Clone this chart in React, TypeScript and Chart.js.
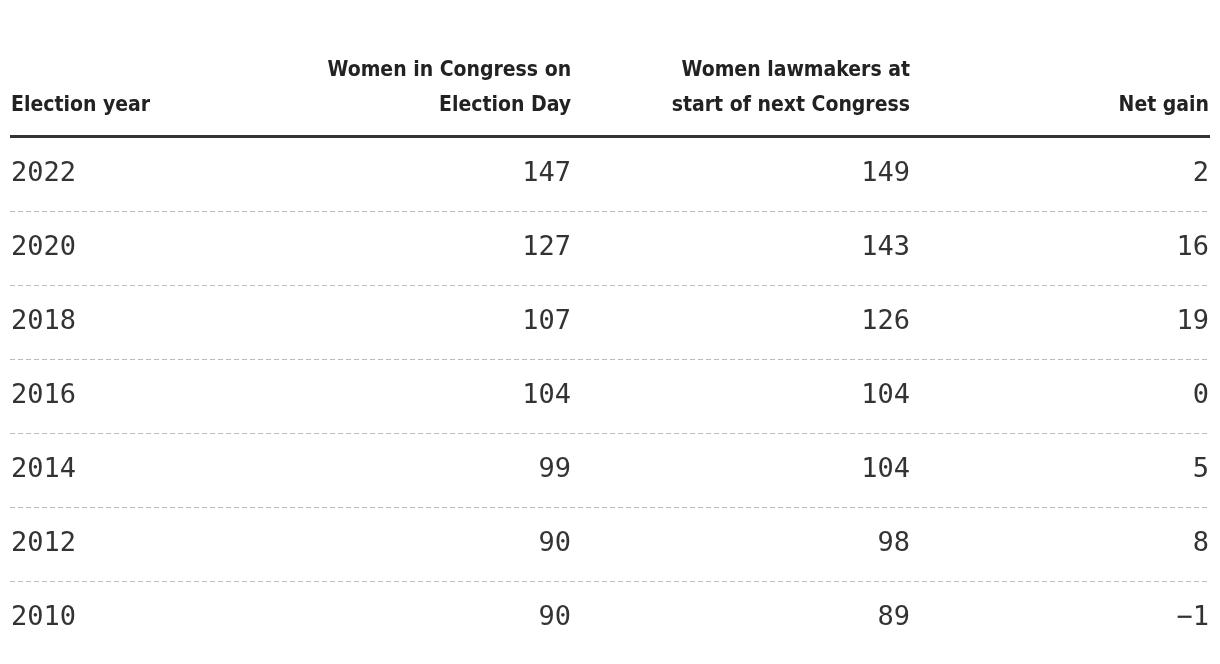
import React, { useEffect, useRef } from "react";
import { Chart, registerables } from "chart.js";

Chart.register(...registerables);

const columnHeaders: string[][] = [
  ["Election year"],
  ["Women in Congress on", "Election Day"],
  ["Women lawmakers at", "start of next Congress"],
  ["Net gain"],
];
const electionYears = ["2022", "2020", "2018", "2016", "2014", "2012", "2010"];
const womenOnElectionDay = [147, 127, 107, 104, 99, 90, 90];
const womenNextCongress = [149, 143, 126, 104, 104, 98, 89];
const netGain = [2, 16, 19, 0, 5, 8, -1];

const fmt = (v: number) => (v < 0 ? "\u2212" + Math.abs(v) : String(v));

export default function App() {
  const ref = useRef<HTMLCanvasElement | null>(null);
  useEffect(() => {
    if (!ref.current) return;
    const tablePlugin = {
      id: "tableText",
      afterDraw(chart: any) {
        const ctx = chart.ctx as CanvasRenderingContext2D;
        const area = chart.chartArea;
        const yScale = chart.scales.y;
        const w = area.right - area.left;
        const anchors = [
          { x: area.left + 1, align: "left" as CanvasTextAlign },
          { x: area.left + w * 0.4676, align: "right" as CanvasTextAlign },
          { x: area.left + w * 0.75, align: "right" as CanvasTextAlign },
          { x: area.right - 1, align: "right" as CanvasTextAlign },
        ];
        ctx.save();
        ctx.fillStyle = "#222";
        ctx.font = "bold 21px 'DejaVu Sans Condensed', 'DejaVu Sans', sans-serif";
        ctx.textBaseline = "alphabetic";
        const lastBase = area.top - 26;
        const lh = 35;
        columnHeaders.forEach((lines, ci) => {
          ctx.textAlign = anchors[ci].align;
          lines.forEach((line, li) => {
            const y = lastBase - (lines.length - 1 - li) * lh;
            ctx.fillText(line, anchors[ci].x, y);
          });
        });
        ctx.fillStyle = "#333";
        ctx.fillRect(area.left, area.top - 2, w, 3);
        ctx.fillStyle = "#333";
        ctx.font = "27px 'DejaVu Sans Mono', 'Liberation Mono', monospace";
        ctx.textBaseline = "middle";
        electionYears.forEach((yr, i) => {
          const y = yScale.getPixelForValue(i);
          const vals = [yr, fmt(womenOnElectionDay[i]), fmt(womenNextCongress[i]), fmt(netGain[i])];
          vals.forEach((v, ci) => {
            ctx.textAlign = anchors[ci].align;
            ctx.fillText(v, anchors[ci].x, y);
          });
        });
        ctx.restore();
      },
    };
    const n = electionYears.length;
    const chart = new Chart(ref.current, {
      type: "bar",
      data: {
        labels: electionYears,
        datasets: [
          {
            label: "Net gain",
            data: netGain,
            backgroundColor: "rgba(0,0,0,0)",
            borderWidth: 0,
          },
        ],
      },
      options: {
        indexAxis: "y",
        animation: false,
        responsive: false,
        maintainAspectRatio: false,
        events: [],
        layout: { padding: { left: 10, right: 10, top: 137, bottom: 9 } },
        plugins: { legend: { display: false }, tooltip: { enabled: false } },
        scales: {
          x: { display: false, min: -100, max: 100 },
          y: {
            display: true,
            offset: true,
            ticks: { display: false },
            border: { display: false, dash: [5, 3] },
            grid: {
              offset: true,
              drawTicks: false,
              lineWidth: 1,
              color: (c: any) =>
                c.index === 0 || c.index == null || c.index >= n || c.type !== "tick"
                  ? "rgba(0,0,0,0)"
                  : "#bdbdbd",
            },
          },
        },
      },
      plugins: [tablePlugin],
    });
    return () => chart.destroy();
  }, []);
  return (
    <div style={{ position: "absolute", left: 0, top: 0, width: 1220, height: 664, background: "#fff" }}>
      <canvas ref={ref} width={1220} height={664} style={{ display: "block" }} />
    </div>
  );
}
